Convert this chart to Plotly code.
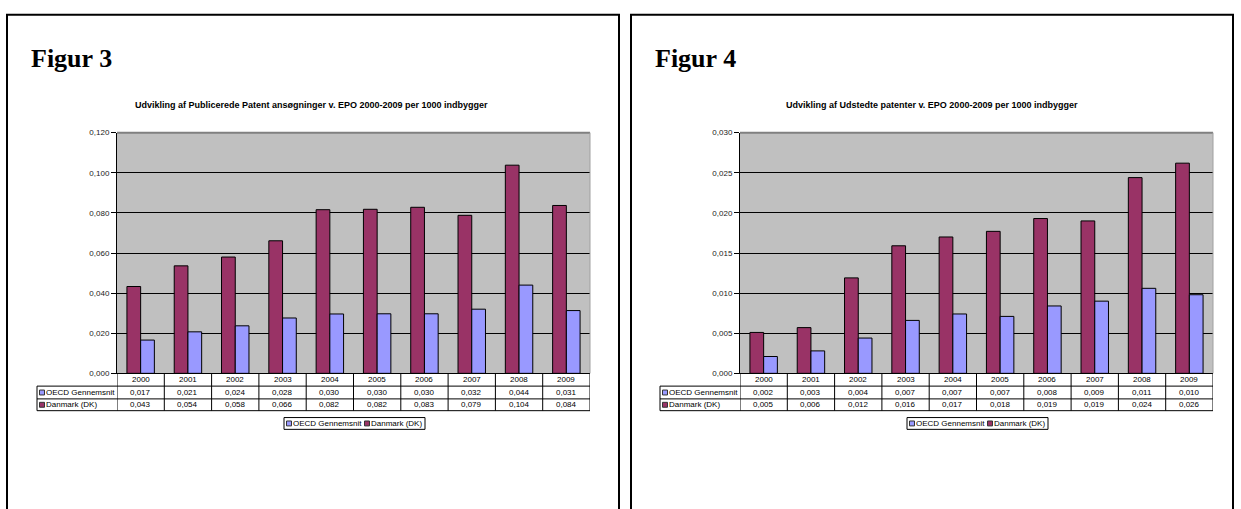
import plotly.graph_objects as go

W, H = 1241, 509

# ---------------- data ----------------
years = ['2000', '2001', '2002', '2003', '2004', '2005', '2006', '2007', '2008', '2009']
series_names = ['OECD Gennemsnit', 'Danmark (DK)']

# Figur 3: published patent applications at EPO per 1000 inhabitants
oecd_pub = [0.0166, 0.0207, 0.0237, 0.0276, 0.0296, 0.0297, 0.0297, 0.0320, 0.0440, 0.0313]
dk_pub = [0.0433, 0.0536, 0.0580, 0.0661, 0.0816, 0.0818, 0.0828, 0.0788, 0.1038, 0.0837]

# Figur 4: granted patents at EPO per 1000 inhabitants
oecd_grant = [0.0021, 0.0028, 0.0044, 0.0066, 0.0074, 0.0071, 0.0084, 0.0090, 0.0106, 0.0098]
dk_grant = [0.0051, 0.0057, 0.0119, 0.0159, 0.0170, 0.0177, 0.0193, 0.0190, 0.0244, 0.0262]

fig_labels = ['Figur 3', 'Figur 4']
chart_titles = ['Udvikling af Publicerede Patent ansøgninger v. EPO 2000-2009 per 1000 indbygger',
                'Udvikling af Udstedte patenter v. EPO 2000-2009 per 1000 indbygger']
y_max = [0.12, 0.03]
y_step = [0.02, 0.005]

OECD_COL = '#9999FF'
DK_COL = '#993366'
SANS = 'Liberation Sans, Arial, sans-serif'
SERIF = 'Liberation Serif, Times New Roman, serif'


def X(px):
    return px / W


def Y(py):
    return 1 - py / H


fmt = lambda v: f"{v:.3f}".replace('.', ',')

# ---------------- geometry per panel ----------------
panels = [
    dict(off=0, border=(7, 619), title_cx=311, fig_x=29, oecd=oecd_pub, dk=dk_pub, xa='x', ya='y'),
    dict(off=623, border=(631, 1233), title_cx=932, fig_x=653, oecd=oecd_grant, dk=dk_grant, xa='x2', ya='y2'),
]
PLOT_L, PLOT_R, PLOT_T, PLOT_B = 117, 590, 131, 376
ROW_Y = [376, 389, 402, 414]
TABLE_L = 37
LEG_L, LEG_R, LEG_T, LEG_B = 284, 425, 421, 433

fig = go.Figure()
shapes = []
annotations = []

for i, p in enumerate(panels):
    o = p['off']
    xa, ya = p['xa'], p['ya']
    axis_suffix = '' if i == 0 else '2'

    # bars: Danmark drawn left, OECD right
    fig.add_trace(go.Bar(x=years, y=p['dk'], name=series_names[1], marker=dict(color=DK_COL, line=dict(color='#000000', width=1)),
                         xaxis=xa, yaxis=ya, showlegend=False))
    fig.add_trace(go.Bar(x=years, y=p['oecd'], name=series_names[0], marker=dict(color=OECD_COL, line=dict(color='#000000', width=1)),
                         xaxis=xa, yaxis=ya, showlegend=False))

    fig.update_layout(**{
        'xaxis' + axis_suffix: dict(domain=[X(PLOT_L + o), X(PLOT_R + o)], type='category', showticklabels=False,
                                    showline=True, linecolor='#000000', linewidth=1, ticks='', showgrid=False,
                                    anchor=ya, range=[-0.5, 9.5], fixedrange=True),
        'yaxis' + axis_suffix: dict(domain=[Y(PLOT_B), Y(PLOT_T)], range=[0, y_max[i]], dtick=y_step[i], tick0=0,
                                    tickformat='.3f', showline=True, linecolor='#000000', linewidth=1,
                                    ticks='outside', ticklen=5, tickcolor='#000000', tickwidth=1,
                                    showgrid=True, gridcolor='#000000', gridwidth=1, zeroline=False,
                                    tickfont=dict(family=SANS, size=8, color='#222222'),
                                    anchor=xa, fixedrange=True),
    })

    # plot area grey border (top and right)
    shapes.append(dict(type='line', xref=xa + ' domain', yref=ya + ' domain', x0=0, x1=1, y0=1, y1=1,
                       line=dict(color='#808080', width=2), layer='above'))
    shapes.append(dict(type='line', xref=xa + ' domain', yref=ya + ' domain', x0=1, x1=1, y0=0, y1=1,
                       line=dict(color='#A0A0A0', width=1), layer='above'))

    # panel border
    bx0, bx1 = p['border']
    shapes.append(dict(type='rect', xref='paper', yref='paper', x0=X(bx0), x1=X(bx1), y0=Y(530), y1=Y(11),
                       line=dict(color='#000000', width=2), fillcolor='rgba(0,0,0,0)'))

    # "Figur n" heading
    annotations.append(dict(text='<b>' + fig_labels[i] + '</b>', xref='paper', yref='paper', x=X(p['fig_x']), y=Y(55),
                            xanchor='left', yanchor='middle', showarrow=False,
                            font=dict(family=SERIF, size=26, color='#000000')))
    # chart title
    annotations.append(dict(text='<b>' + chart_titles[i] + '</b>', xref='paper', yref='paper', x=X(p['title_cx']), y=Y(103),
                            xanchor='center', yanchor='middle', showarrow=False,
                            font=dict(family=SANS, size=9, color='#000000')))

    # ---------------- data table ----------------
    # horizontal rules
    for ry in ROW_Y[1:]:
        shapes.append(dict(type='line', xref='paper', yref='paper', x0=X(TABLE_L + o), x1=X(PLOT_R + o), y0=Y(ry), y1=Y(ry),
                           line=dict(color='#000000', width=1)))
    # vertical rules at category boundaries
    for k in range(len(years) + 1):
        shapes.append(dict(type='line', xref=xa, yref='paper', x0=k - 0.5, x1=k - 0.5, y0=Y(ROW_Y[0]), y1=Y(ROW_Y[-1]),
                           line=dict(color='#000000', width=1)))
    shapes.append(dict(type='line', xref='paper', yref='paper', x0=X(TABLE_L + o), x1=X(TABLE_L + o), y0=Y(ROW_Y[1]), y1=Y(ROW_Y[-1]),
                       line=dict(color='#000000', width=1)))

    row_c = [(ROW_Y[r] + ROW_Y[r + 1]) / 2 for r in range(3)]
    for k, yr in enumerate(years):
        for r, txt in enumerate([yr, fmt(p['oecd'][k]), fmt(p['dk'][k])]):
            annotations.append(dict(text=txt, xref=xa, yref='paper', x=k, y=Y(row_c[r]), xanchor='center',
                                    yanchor='middle', showarrow=False,
                                    font=dict(family=SANS, size=8, color='#000000')))

    # row labels with colour keys
    for r, (nm, col) in enumerate([(series_names[0], OECD_COL), (series_names[1], DK_COL)]):
        cy = row_c[r + 1]
        shapes.append(dict(type='rect', xref='paper', yref='paper', x0=X(TABLE_L + 2.5 + o), x1=X(TABLE_L + 7.5 + o),
                           y0=Y(cy + 2.5), y1=Y(cy - 2.5), fillcolor=col, line=dict(color='#333333', width=1)))
        annotations.append(dict(text=nm, xref='paper', yref='paper', x=X(TABLE_L + 7 + o), y=Y(cy), xanchor='left',
                                yanchor='middle', showarrow=False, font=dict(family=SANS, size=8, color='#000000')))

    # ---------------- legend box ----------------
    shapes.append(dict(type='rect', xref='paper', yref='paper', x0=X(LEG_L + o), x1=X(LEG_R + o), y0=Y(LEG_B), y1=Y(LEG_T),
                       line=dict(color='#000000', width=1), fillcolor='#FFFFFF'))
    lcy = (LEG_T + LEG_B) / 2
    for nm, col, sx in [(series_names[0], OECD_COL, LEG_L + 2.5), (series_names[1], DK_COL, LEG_L + 80.5)]:
        shapes.append(dict(type='rect', xref='paper', yref='paper', x0=X(sx + o), x1=X(sx + 5 + o),
                           y0=Y(lcy + 2.5), y1=Y(lcy - 2.5), fillcolor=col, line=dict(color='#333333', width=1)))
        annotations.append(dict(text=nm, xref='paper', yref='paper', x=X(sx + 4.5 + o), y=Y(lcy), xanchor='left',
                                yanchor='middle', showarrow=False, font=dict(family=SANS, size=8, color='#000000')))

fig.update_layout(
    width=W, height=H, autosize=False,
    margin=dict(l=0, r=0, t=0, b=0, pad=0),
    paper_bgcolor='#FFFFFF', plot_bgcolor='#C0C0C0',
    barmode='group', bargap=0.42, bargroupgap=0,
    separators=',.',
    showlegend=False,
    shapes=shapes, annotations=annotations,
    font=dict(family=SANS, size=8, color='#000000'),
)

fig.write_html('out.html', config={'displayModeBar': False})
